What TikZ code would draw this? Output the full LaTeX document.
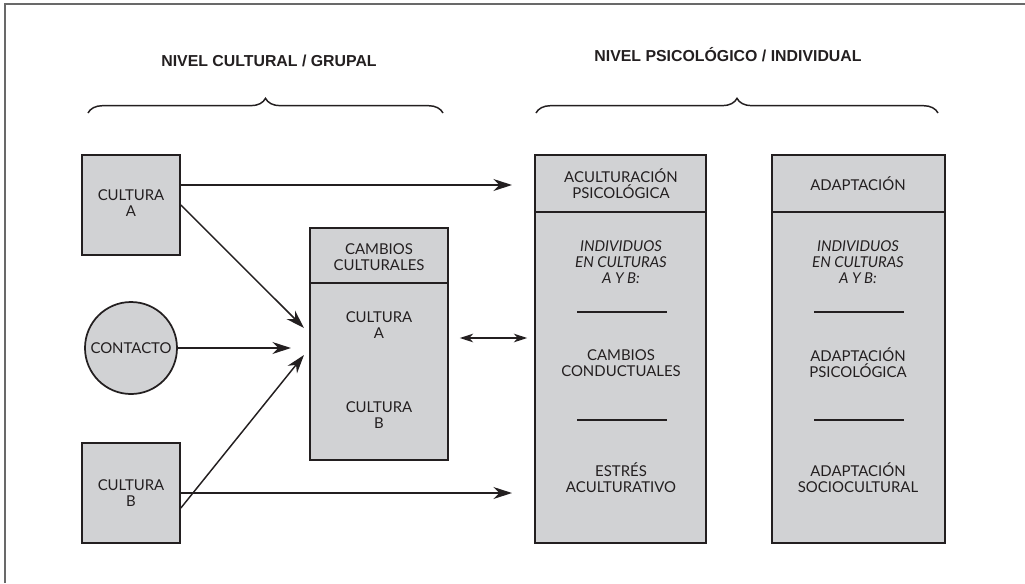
\documentclass[tikz,border=0pt]{standalone}
\usepackage{fontspec}
\setmainfont{Lato}
\newfontfamily\titlefont{Liberation Sans}
\usetikzlibrary{arrows.meta,fit,decorations.pathreplacing}

\tikzset{every picture/.style={line width=0.75pt}}
\definecolor{boxgray}{RGB}{209,210,212}
\definecolor{inkgray}{RGB}{35,31,32}
\definecolor{framegray}{RGB}{105,105,105}
\tikzset{
  box/.style={draw=inkgray, fill=boxgray, line width=1.3pt, inner sep=0pt},
  lbl/.style={align=center, inner sep=0.75pt, text=inkgray, font=\fontsize{11.2}{11.8}\selectfont},
  ttl/.style={inner sep=0.75pt, text=inkgray, font=\titlefont\bfseries\fontsize{11.9}{14}\selectfont},
  flow/.style={draw=inkgray, line width=1.1pt, -{Stealth[length=14pt,width=9pt,inset=4.5pt]}},
  dflow/.style={draw=inkgray, line width=1.1pt, {Stealth[length=10pt,width=6.5pt,inset=3pt]}-{Stealth[length=10pt,width=6.5pt,inset=3pt]}},
  rule/.style={draw=inkgray, line width=1.1pt},
  curly/.style={draw=inkgray, line width=1.1pt, decorate, decoration={brace, amplitude=11pt}},
}

\begin{document}
\begin{tikzpicture}[x=0.75pt,y=0.75pt,yscale=-1,xscale=1]
\useasboundingbox (0,0) rectangle (1025,583);

%Frame
\draw [framegray, line width=1.5pt] (5,583) -- (5,4) -- (1025,4) ;

% Text Node
\node [ttl] (nivcult) at (269,61) {NIVEL CULTURAL / GRUPAL};
% Text Node
\node [ttl] (nivpsic) at (728,55) {NIVEL PSICOLÓGICO / INDIVIDUAL};

%Braces
\draw [curly] (88,113) -- (443,113) ;
\draw [curly] (536,113) -- (938,113) ;

%Shape: Rectangle [cultura A]
\node [box, fit={(82,155) (180,255)}] (cultA) {};
\node [lbl] (cultAtxt) at (131,203) {CULTURA\\A};
%Shape: Circle [contacto]
\node [box, circle, minimum size=69pt, font=\fontsize{11.2}{11.8}\selectfont, text=inkgray] (contacto) at (131,348) {CONTACTO};
%Shape: Rectangle [cultura B]
\node [box, fit={(82,443) (180,543)}] (cultB) {};
\node [lbl] (cultBtxt) at (131,493) {CULTURA\\B};

%Shape: Rectangle [cambios culturales]
\node [box, fit={(310,228) (448,460)}] (cambios) {};
\draw [rule] (cambios.west |- 0,283) -- (cambios.east |- 0,283) ;
\node [lbl] (cambioshd) at (379,257) {CAMBIOS\\CULTURALES};
\node [lbl] (cambiosA) at (379,325) {CULTURA\\A};
\node [lbl] (cambiosB) at (379,415) {CULTURA\\B};

%Shape: Rectangle [aculturacion]
\node [box, fit={(535,155) (706,543)}] (acult) {};
\draw [rule] (acult.west |- 0,212) -- (acult.east |- 0,212) ;
\node [lbl] (aculthd) at (621,184) {ACULTURACIÓN\\PSICOLÓGICA};
\node [lbl, font=\fontsize{11.2}{11.8}\selectfont\itshape] (acultind) at (621,262) {INDIVIDUOS\\EN CULTURAS\\A Y B:};
\draw [rule] (577,312) -- (667,312) ;
\node [lbl] (acultcond) at (621,363) {CAMBIOS\\CONDUCTUALES};
\draw [rule] (577,420) -- (667,420) ;
\node [lbl] (acultestr) at (621,478) {ESTRÉS\\ACULTURATIVO};

%Shape: Rectangle [adaptacion]
\node [box, fit={(772,155) (945,543)}] (adapt) {};
\draw [rule] (adapt.west |- 0,212) -- (adapt.east |- 0,212) ;
\node [lbl] (adapthd) at (858,184) {ADAPTACIÓN};
\node [lbl, font=\fontsize{11.2}{11.8}\selectfont\itshape] (adaptind) at (858,262) {INDIVIDUOS\\EN CULTURAS\\A Y B:};
\draw [rule] (814,312) -- (904,312) ;
\node [lbl] (adaptpsic) at (858,363) {ADAPTACIÓN\\PSICOLÓGICA};
\draw [rule] (814,420) -- (904,420) ;
\node [lbl] (adaptsoc) at (858,478) {ADAPTACIÓN\\SOCIOCULTURAL};

%Arrow ends
\coordinate (tipAtop) at (512,185);
\coordinate (tipAin) at (304,328);
\coordinate (tipCin) at (291,348);
\coordinate (tipBin) at (304,355);
\coordinate (tipBbot) at (512,493);
\coordinate (dmid) at (490,338);

%Straight Lines
\draw [flow] (cultA.east |- tipAtop) -- (tipAtop) ;
\draw [flow] (cultA.east) -- (tipAin) ;
\draw [flow] (contacto.east) -- (tipCin) ;
\draw [flow] ([yshift=11.25pt]cultB.east) -- (tipBin) ;
\draw [flow] (cultB.east) -- (tipBbot) ;
\draw [dflow, shorten <=8.25pt, shorten >=5.25pt] (cambios.east |- dmid) -- (acult.west |- dmid) ;

\end{tikzpicture}
\end{document}
